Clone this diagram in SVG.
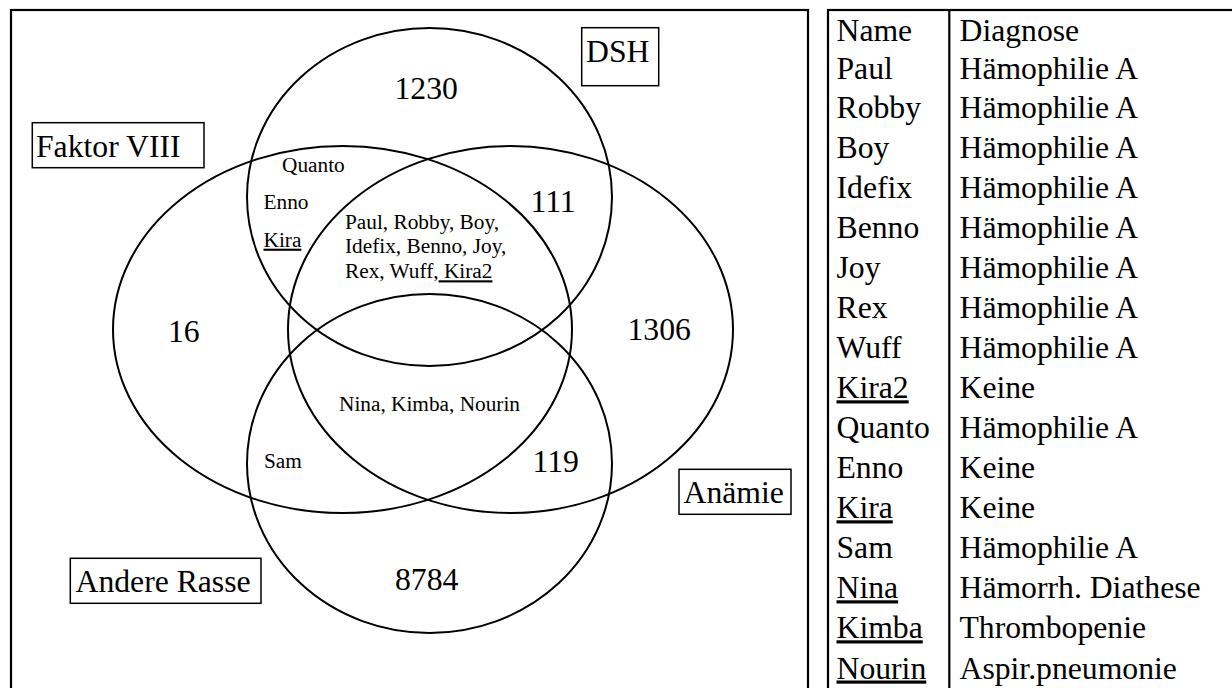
<svg xmlns="http://www.w3.org/2000/svg" width="1232" height="688" viewBox="0 0 1232 688">
<style>
text{font-family:"Liberation Serif","Times New Roman",serif;fill:#000}
.big{font-size:31.7px}
.sm{font-size:21.3px}
.u{text-decoration:underline}
.frame{fill:none;stroke:#000;stroke-width:2.2}
.ell{fill:none;stroke:#000;stroke-width:2}
.box{fill:none;stroke:#000;stroke-width:1.5}
</style>
<rect width="1232" height="688" fill="#fff"/>
<g id="venn-frame"><rect class="frame" x="11" y="10" width="797" height="700"/></g>
<g id="sets">
<g id="set-dsh"><ellipse class="ell" cx="429.5" cy="197" rx="182.5" ry="169"/></g>
<g id="set-faktor"><ellipse class="ell" cx="342.5" cy="329.5" rx="229.5" ry="183.5"/></g>
<g id="set-anaemie"><ellipse class="ell" cx="510.5" cy="329.5" rx="222.5" ry="183.5"/></g>
<g id="set-andere"><ellipse class="ell" cx="429.5" cy="463.5" rx="182.5" ry="169.5"/></g>
</g>
<g id="labels">
<g id="label-faktor"><rect class="box" x="32.3" y="122.7" width="171.7" height="45"/><text class="big" x="36" y="157">Faktor VIII</text></g>
<g id="label-dsh"><rect class="box" x="581.7" y="27.7" width="77" height="58"/><text class="big" x="586" y="61.7">DSH</text></g>
<g id="label-anaemie"><rect class="box" x="679" y="469.3" width="112" height="45"/><text class="big" x="683.5" y="502.7">Anämie</text></g>
<g id="label-andere"><rect class="box" x="70.3" y="558.3" width="190.7" height="45"/><text class="big" x="75.5" y="592.3">Andere Rasse</text></g>
</g>
<g id="counts">
<text class="big" x="394.5" y="99">1230</text>
<text class="big" x="530.5" y="212">111</text>
<text class="big" x="627.5" y="340">1306</text>
<text class="big" x="168" y="341.7">16</text>
<text class="big" x="532.5" y="472.3">119</text>
<text class="big" x="395" y="590">8784</text>
</g>
<g id="names">
<text class="sm" x="282" y="172.3">Quanto</text>
<text class="sm" x="263.5" y="209">Enno</text>
<text class="sm u" x="263.5" y="246.7">Kira</text>
<text class="sm" x="345" y="229.3">Paul, Robby, Boy,</text>
<text class="sm" x="345" y="253.3">Idefix, Benno, Joy,</text>
<text class="sm" x="345" y="278.3">Rex, Wuff,<tspan class="u"> Kira2</tspan></text>
<text class="sm" x="339" y="410.7">Nina, Kimba, Nourin</text>
<text class="sm" x="264" y="467.7">Sam</text>
</g>
<g id="table">
<rect class="frame" x="828" y="10" width="420" height="700"/>
<line class="frame" x1="949.3" y1="10" x2="949.3" y2="700"/>
<g class="big">
<text class="big" x="836.5" y="40.5">Name</text><text class="big" x="959.5" y="40.5">Diagnose</text>
<text class="big" x="836.5" y="79">Paul</text><text class="big" x="959.5" y="79">Hämophilie A</text>
<text class="big" x="836.5" y="118.3">Robby</text><text class="big" x="959.5" y="118.3">Hämophilie A</text>
<text class="big" x="836.5" y="158.3">Boy</text><text class="big" x="959.5" y="158.3">Hämophilie A</text>
<text class="big" x="836.5" y="198.3">Idefix</text><text class="big" x="959.5" y="198.3">Hämophilie A</text>
<text class="big" x="836.5" y="238.3">Benno</text><text class="big" x="959.5" y="238.3">Hämophilie A</text>
<text class="big" x="836.5" y="278.3">Joy</text><text class="big" x="959.5" y="278.3">Hämophilie A</text>
<text class="big" x="836.5" y="318.3">Rex</text><text class="big" x="959.5" y="318.3">Hämophilie A</text>
<text class="big" x="836.5" y="358.3">Wuff</text><text class="big" x="959.5" y="358.3">Hämophilie A</text>
<text class="big u" x="836.5" y="398.3">Kira2</text><text class="big" x="959.5" y="398.3">Keine</text>
<text class="big" x="836.5" y="438.3">Quanto</text><text class="big" x="959.5" y="438.3">Hämophilie A</text>
<text class="big" x="836.5" y="478.3">Enno</text><text class="big" x="959.5" y="478.3">Keine</text>
<text class="big u" x="836.5" y="518.3">Kira</text><text class="big" x="959.5" y="518.3">Keine</text>
<text class="big" x="836.5" y="558.3">Sam</text><text class="big" x="959.5" y="558.3">Hämophilie A</text>
<text class="big u" x="836.5" y="598.3">Nina</text><text class="big" x="959.5" y="598.3">Hämorrh. Diathese</text>
<text class="big u" x="836.5" y="638.3">Kimba</text><text class="big" x="959.5" y="638.3">Thrombopenie</text>
<text class="big u" x="836.5" y="678.5">Nourin</text><text class="big" x="959.5" y="678.5">Aspir.pneumonie</text>
</g>
</g>
</svg>
